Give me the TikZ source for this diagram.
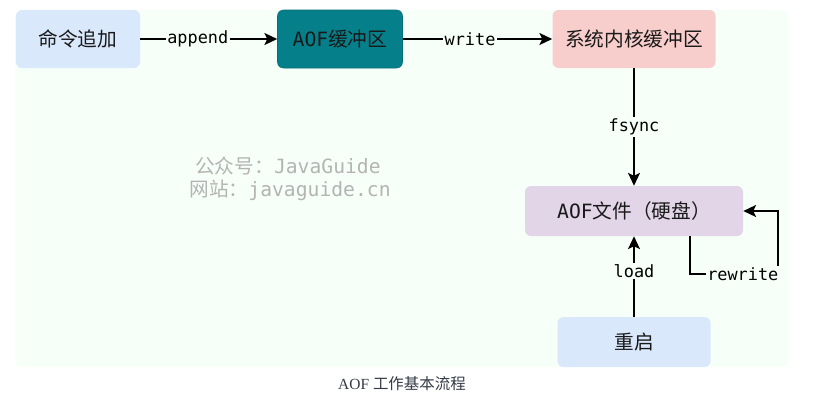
\documentclass[tikz,border=0pt]{standalone}
\usepackage{fontspec}
\usepackage{xcolor}
\usetikzlibrary{arrows.meta}
\setmainfont{Liberation Serif}
\newfontfamily\cjk{Noto Sans CJK SC}
\newfontfamily\mono{DejaVu Sans Mono}
\definecolor{panelbg}{HTML}{F6FFF8}
\definecolor{bluebox}{HTML}{DAE8FC}
\definecolor{tealbox}{HTML}{05808A}
\definecolor{redbox}{HTML}{F8CECC}
\definecolor{purplebox}{HTML}{E1D5E7}
\definecolor{markgray}{HTML}{B4B4B4}
\definecolor{captiongray}{HTML}{333A45}

\begin{document}
\begin{tikzpicture}[
  stepbox/.style={rounded corners=0.15cm, minimum height=1.45cm, font=\cjk\fontsize{14}{16}\selectfont, text=black!90},
  flow/.style={line width=1.2pt, -{Stealth[length=0.32cm, width=0.3cm, inset=0.07cm]}},
  lbl/.style={fill=panelbg, inner sep=1pt, font=\mono\fontsize{12}{14}\selectfont}
]
\useasboundingbox (0,0) rectangle (21,-10.175);
\fill[panelbg, rounded corners=0.2cm] (0.375,-0.25) rectangle (19.725,-9.175);

\node[stepbox, fill=bluebox, minimum width=3.1cm] (cmd) at (1.95,-0.975) {命令追加};
\node[stepbox, fill=tealbox, draw=tealbox!85!black, minimum width=3.125cm] (buf) at (8.5,-0.975) {{\mono AOF}缓冲区};
\node[stepbox, fill=redbox, minimum width=4.075cm] (kernel) at (15.85,-0.975) {系统内核缓冲区};
\node[stepbox, fill=purplebox, minimum width=5.45cm, minimum height=1.25cm] (file) at (15.85,-5.275) {{\mono AOF}文件（硬盘）};
\node[stepbox, fill=bluebox, minimum width=3.825cm, minimum height=1.25cm] (restart) at (15.85,-8.55) {重启};

\draw[flow] (cmd) -- node[lbl, pos=0.42] {append} (buf);
\draw[flow] (buf) -- node[lbl, pos=0.45] {write} (kernel);
\draw[flow] (kernel) -- node[lbl] {fsync} (file);
\draw[flow] (restart) -- node[lbl, pos=0.57] {load} (file);
\coordinate (rwcorner) at (19.45,-6.85);
\draw[flow] (file.south -| 17.25,0) |- node[lbl, pos=0.8] {rewrite} (rwcorner) |- (file.east);

% watermark
\node[text=markgray, font=\fontsize{14}{16}\selectfont] (mark1) at (7.2,-4.15) {{\cjk 公众号：}{\mono JavaGuide}};
\node[text=markgray, font=\fontsize{14}{16}\selectfont] (mark2) at (7.25,-4.75) {{\cjk 网站：}{\mono javaguide.cn}};

\node[text=captiongray, font=\fontsize{11}{13}\selectfont] (caption) at (10.05,-9.6) {AOF {\cjk 工作基本流程}};
\end{tikzpicture}
\end{document}
